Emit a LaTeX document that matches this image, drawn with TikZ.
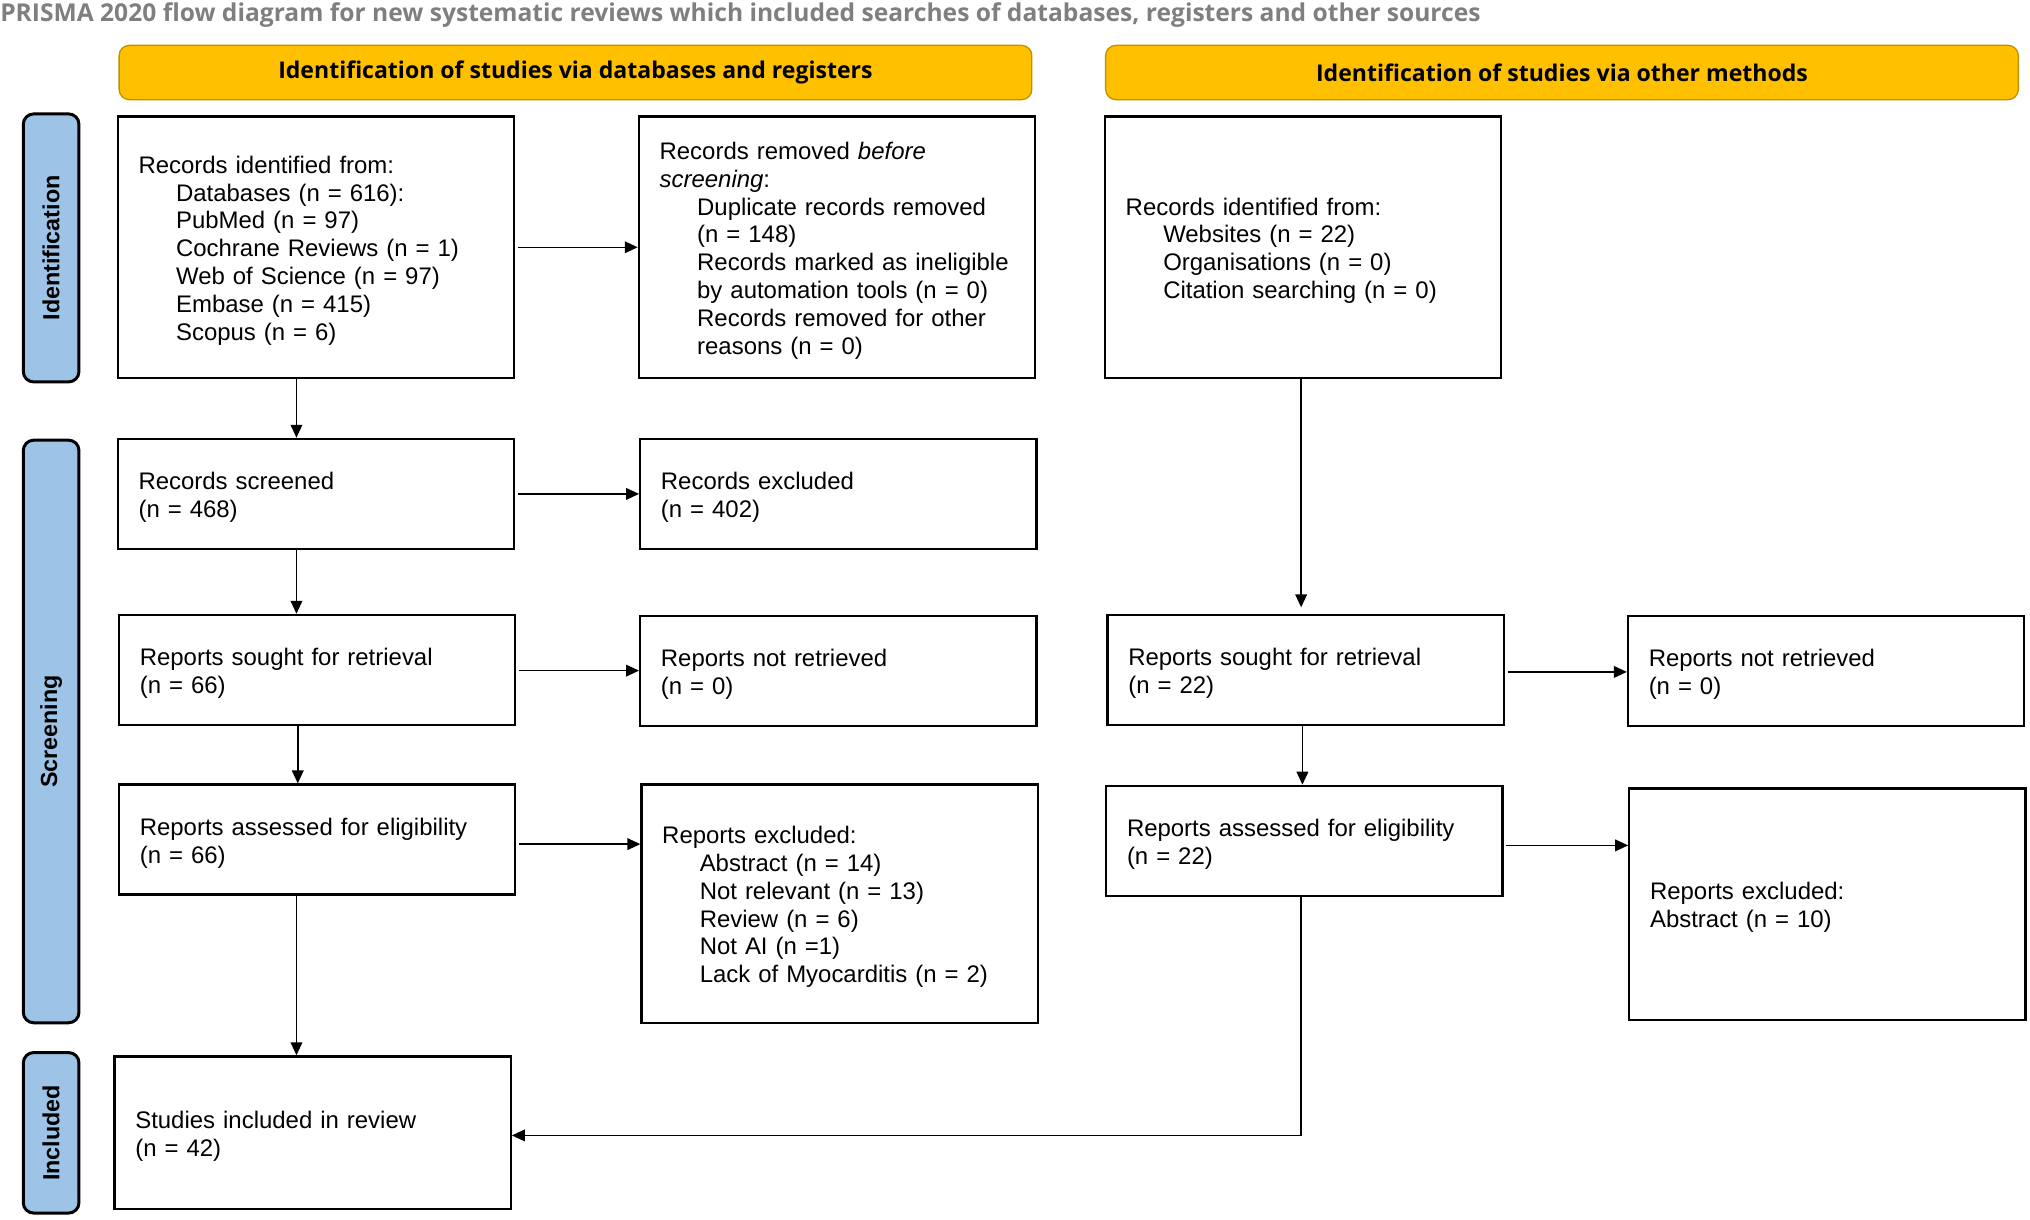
\documentclass[tikz,border=0pt]{standalone}
\usepackage{fontspec}
\setmainfont{Liberation Sans}
\newfontfamily\opensans{Open Sans}
\usetikzlibrary{arrows.meta}
\definecolor{hdr}{HTML}{FFC000}
\definecolor{hdrline}{HTML}{BF9000}
\definecolor{side}{HTML}{9DC3E6}
\definecolor{ttl}{HTML}{7F7F7F}
\newcommand{\indt}{\hspace*{29pt}}
\newcommand{\fst}{\rule{0pt}{18.5pt}}
\begin{document}
\begin{tikzpicture}[x=1pt,y=-1pt,
  box/.style={draw,line width=1.8pt,inner xsep=16pt,inner ysep=0pt,align=left,
    text width=274pt,minimum height=#1,
    font=\fontsize{18.5}{21.5}\selectfont},
  box/.default=85pt,
  hdrbox/.style={draw=hdrline,line width=1pt,fill=hdr,rounded corners=8pt,
    minimum width=705pt,minimum height=42pt,inner sep=0pt,
    font=\opensans\bfseries\fontsize{17.8}{20}\selectfont},
  sidebox/.style={draw,line width=2.3pt,fill=side,rounded corners=8pt,
    minimum width=43pt,minimum height=#1,inner sep=0pt},
  sidetext/.style={rotate=90,font=\bfseries\fontsize{18}{20}\selectfont,inner sep=0pt},
  arr/.style={line width=1.2pt,-{Triangle[length=10pt,width=9pt]}}
]
\useasboundingbox (0,0) rectangle (1568,942);

% title
\node[anchor=base west,inner sep=0pt,text=ttl,font=\opensans\bfseries\fontsize{19}{21}\selectfont] (title) at (0,16.5) {PRISMA 2020 flow diagram for new systematic reviews which included searches of databases, registers and other sources};

% headers
\node[hdrbox] (h1) at (444.5,56) {Identification of studies via databases and registers};
\node[hdrbox] (h2) at (1206.5,56) {Identification of studies via other methods};

% side bars
\node[sidebox=207pt] (sid) at (39.5,191.5) {};
\node[sidetext] (tid) at (sid.center) {Identification};
\node[sidebox=450pt] (ssc) at (39.5,565) {};
\node[sidetext] (tsc) at (ssc.center) {Screening};
\node[sidebox=124pt] (sin) at (39.5,875) {};
\node[sidetext] (tin) at (sin.center) {Included};

% boxes
\node[box=202pt] (A) at (244,191) {\fst Records identified from:\\
\indt Databases (n = 616):\\
\indt PubMed (n = 97)\\
\indt Cochrane Reviews (n = 1)\\
\indt Web of Science (n = 97)\\
\indt Embase (n = 415)\\
\indt Scopus (n = 6)};
\node[box=202pt] (B) at (646.5,191) {\fst Records removed \textit{before}\\
\textit{screening}:\\
\indt Duplicate records removed\\
\indt (n = 148)\\
\indt Records marked as ineligible\\
\indt by automation tools (n = 0)\\
\indt Records removed for other\\
\indt reasons (n = 0)};
\node[box=202pt] (C) at (1006.5,191) {\fst Records identified from:\\
\indt Websites (n = 22)\\
\indt Organisations (n = 0)\\
\indt Citation searching (n = 0)};

\node[box] (S) at (244,381.5) {\fst Records screened\\(n = 468)};
\node[box] (E) at (647.5,381.5) {\fst Records excluded\\(n = 402)};

\node[box] (SL) at (245,517.5) {\fst Reports sought for retrieval\\(n = 66)};
\node[box] (NL) at (647.5,518.5) {\fst Reports not retrieved\\(n = 0)};
\node[box] (SR) at (1008.5,517.5) {\fst Reports sought for retrieval\\(n = 22)};
\node[box] (NR) at (1410.5,518.5) {\fst Reports not retrieved\\(n = 0)};

\node[box] (AL) at (245,648.5) {\fst Reports assessed for eligibility\\(n = 66)};
\node[box=184pt] (XL) at (648.5,698) {\fst Reports excluded:\\
\indt Abstract (n = 14)\\
\indt Not relevant (n = 13)\\
\indt Review (n = 6)\\
\indt Not AI (n =1)\\
\indt Lack of Myocarditis (n = 2)};
\node[box] (AR) at (1007.5,649.5) {\fst Reports assessed for eligibility\\(n = 22)};
\node[box=179pt] (XR) at (1411.5,698.5) {\fst Reports excluded:\\Abstract (n = 10)};

\node[box=118pt] (I) at (241.5,875) {\fst Studies included in review\\(n = 42)};

% arrows left column
\draw[arr] ([xshift=-15pt]A.south) -- ([xshift=-15pt]A.south |- S.north);
\draw[arr] ([xshift=-15pt]S.south) -- ([xshift=-15pt]S.south |- SL.north);
\draw[arr] ([xshift=-15pt]SL.south) -- ([xshift=-15pt]SL.south |- AL.north);
\draw[arr] ([xshift=-16pt]AL.south) -- ([xshift=-16pt]AL.south |- I.north);
\draw[arr] ([xshift=2pt]A.east) -- (A.east -| B.west);
\draw[arr] ([xshift=2pt]S.east) -- (S.east -| E.west);
\draw[arr] ([xshift=2pt,yshift=-0.5pt]SL.east) -- ([yshift=-0.5pt]SL.east -| NL.west);
\draw[arr] ([xshift=2pt,yshift=-3.5pt]AL.east) -- ([yshift=-3.5pt]AL.east -| XL.west);

% arrows right column
\draw[arr] ([xshift=-1.5pt]C.south) -- ([xshift=-1.5pt,yshift=5pt]C.south |- SR.north);
\draw[arr] ([xshift=-2.5pt]SR.south) -- ([xshift=-2.5pt]SR.south |- AR.north);
\draw[arr] ([xshift=2pt,yshift=-1.5pt]SR.east) -- ([yshift=-1.5pt]SR.east -| NR.west);
\draw[arr] ([xshift=2pt,yshift=-3.5pt]AR.east) -- ([yshift=-3.5pt]AR.east -| XR.west);
\draw[arr] ([xshift=-2.5pt]AR.south) |- ([yshift=-2pt]I.east);
\end{tikzpicture}
\end{document}
